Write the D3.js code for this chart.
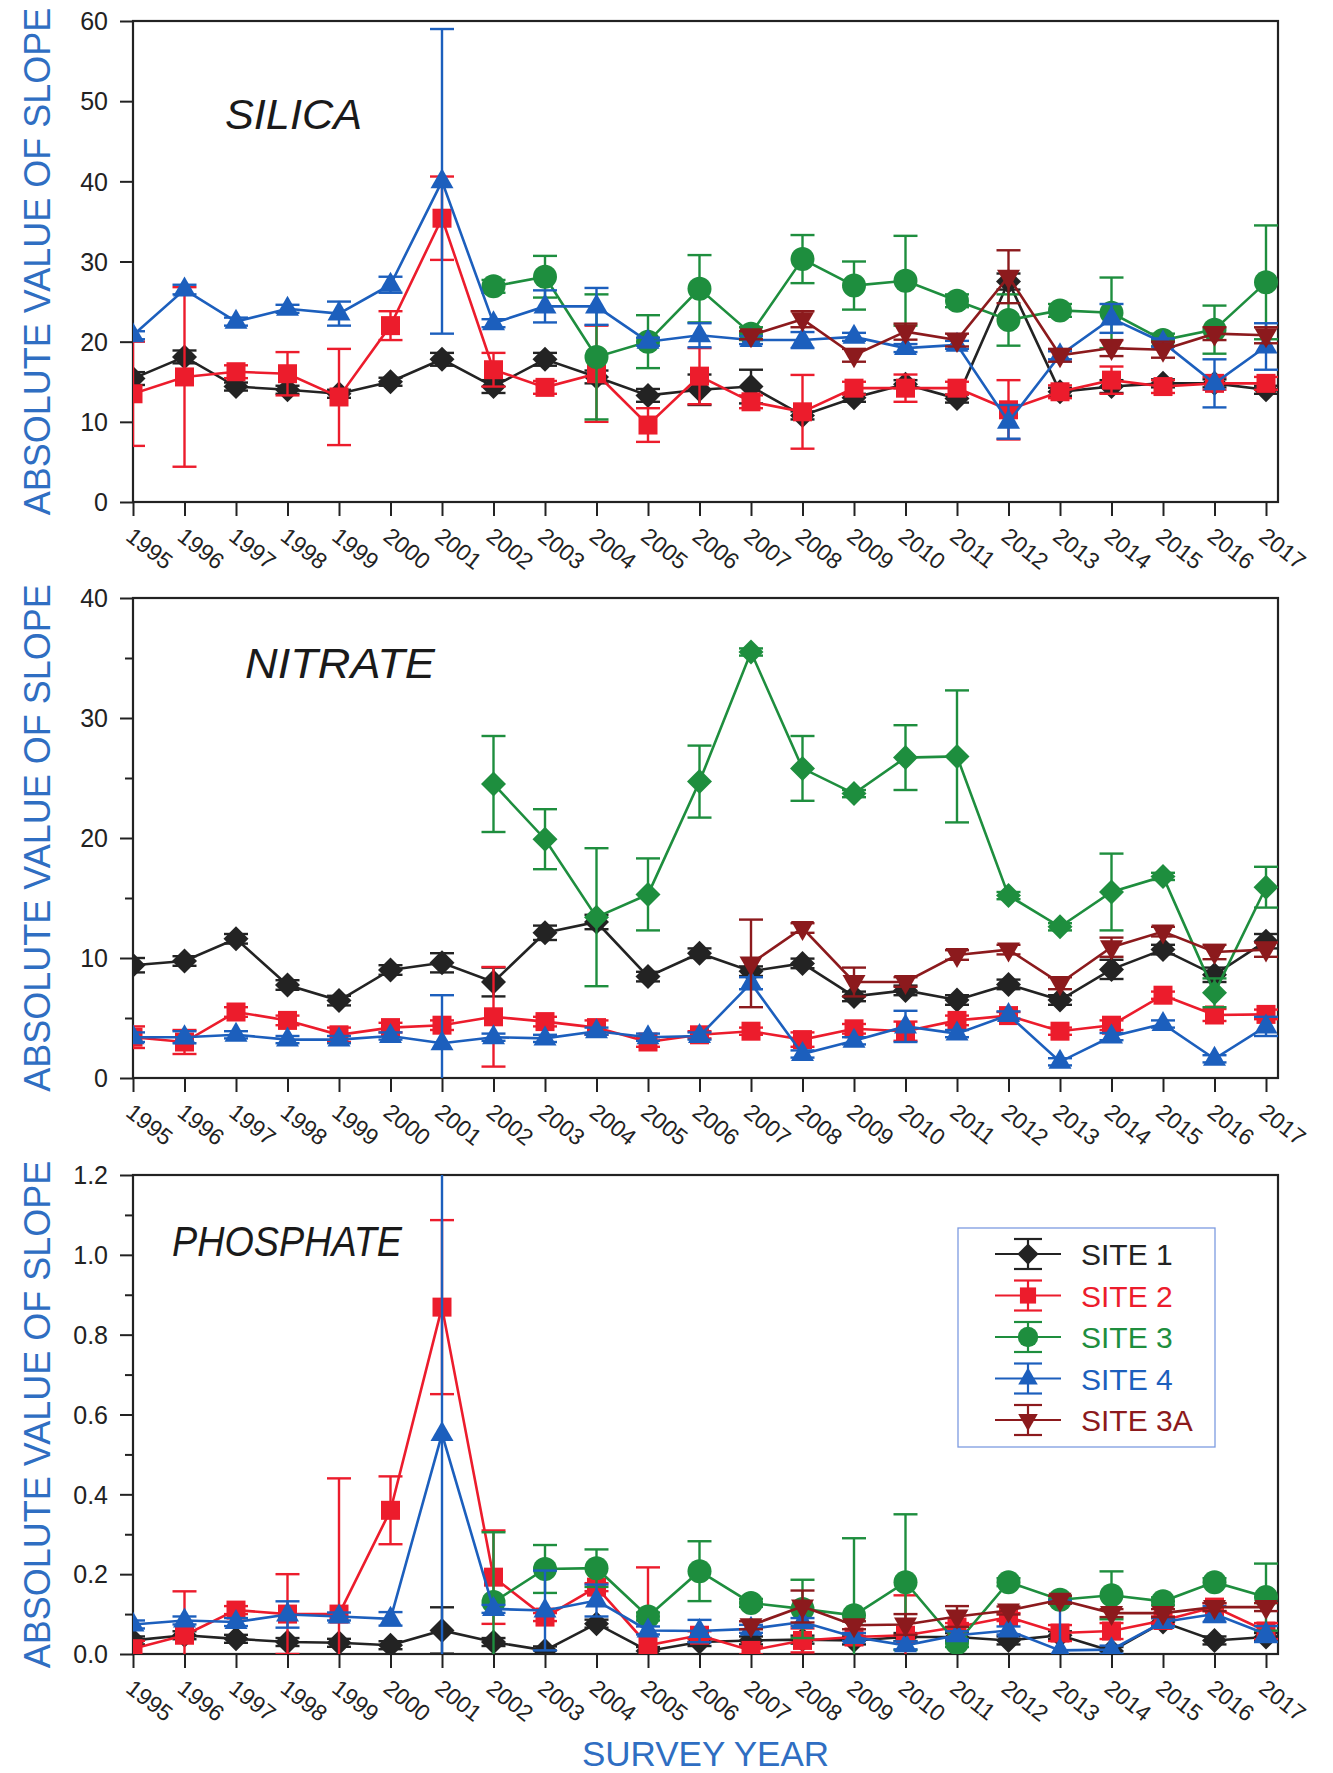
<!DOCTYPE html>
<html><head><meta charset="utf-8">
<script src="https://cdn.jsdelivr.net/npm/d3@7/dist/d3.min.js"></script>
<style>body{margin:0;background:#fff}</style>
</head><body>
<svg id="chart" width="1333" height="1773"></svg>
<script>
// ---------- DATA ----------
const years = [1995,1996,1997,1998,1999,2000,2001,2002,2003,2004,2005,2006,2007,2008,2009,2010,2011,2012,2013,2014,2015,2016,2017];
const yearLabels = ["1995","1996","1997","1998","1999","2000","2001","2002","2003","2004","2005","2006","2007","2008","2009","2010","2011","2012","2013","2014","2015","2016","2017"];
const siteNames = ["SITE 1","SITE 2","SITE 3","SITE 4","SITE 3A"];
const siteColors = ["#232323","#ec1c2c","#1e8e3e","#1c5fbd","#8c1a1d"];
const panelNames = ["SILICA","NITRATE","PHOSPHATE"];

// Silica
const silicaTicks = [0,10,20,30,40,50,60];
const silicaSite1 = [15.4,18.1,14.4,14.0,13.5,15.0,17.8,14.4,17.8,15.6,13.3,14.0,14.4,10.8,13.0,14.7,12.9,27.5,13.75,14.4,14.8,14.8,14.0];
const silicaSite1Err = [0.8,0.8,0.5,0.5,0.5,0.5,0.8,0.8,0.8,0.8,0.8,1.9,2.1,0.5,0.5,0.5,0.5,1.0,0.5,0.8,0.5,0.5,0.5];
const silicaSite2 = [13.5,15.6,16.25,16.0,13.1,22.0,35.4,16.5,14.3,16.0,9.6,15.7,12.5,11.25,14.2,14.2,14.2,11.5,13.75,15.2,14.4,14.8,14.8];
const silicaSite2Err = [6.5,11.2,0.8,2.7,6.0,1.8,5.2,2.1,0.8,6.0,2.1,3.5,0.8,4.6,0.8,1.7,0.8,3.7,0.8,1.7,0.8,0.8,0.8];
const silicaSite3 = [null,null,null,null,null,null,null,26.9,28.1,18.1,20.0,26.6,21.0,30.3,27.0,27.6,25.1,22.7,23.9,23.6,20.2,21.5,27.4];
const silicaSite3Err = [null,null,null,null,null,null,null,0.8,2.6,7.8,3.3,4.2,0.8,3.0,3.0,5.6,0.8,3.2,0.8,4.4,0.8,3.0,7.1];
const silicaSite4 = [20.8,26.5,22.5,24.1,23.5,27.1,40.0,22.3,24.4,24.4,20.0,20.8,20.2,20.2,20.6,19.2,19.6,10.0,18.3,22.9,19.9,14.8,19.4];
const silicaSite4Err = [0.5,0.6,0.5,0.5,1.5,1.0,19.0,0.5,2.0,2.3,0.5,1.5,0.5,1.0,0.5,0.5,0.5,2.1,0.5,1.8,0.5,3.0,2.9];
const silicaSite3A = [null,null,null,null,null,null,null,null,null,null,null,null,20.8,22.8,18.3,21.25,20.2,28.1,18.3,19.2,19.0,21.0,20.8];
const silicaSite3AErr = [null,null,null,null,null,null,null,null,null,null,null,null,0.5,1.0,0.8,1.0,0.8,3.3,0.8,1.0,1.0,0.8,1.0];

// Nitrate
const nitrateTicks = [0,10,20,30,40];
const nitrateMinorTicks = [5,15,25,35];
const nitrateSite1 = [9.4,9.75,11.6,7.75,6.45,9.0,9.6,8.0,12.1,13.0,8.45,10.4,8.9,9.55,6.8,7.3,6.5,7.8,6.5,9.05,10.7,8.6,11.4];
const nitrateSite1Err = [0.6,0.4,0.4,0.4,0.4,0.4,0.8,1.2,0.6,0.6,0.4,0.4,0.4,0.4,0.4,0.4,0.4,0.4,0.4,0.8,0.4,0.6,0.6];
const nitrateSite2 = [3.4,3.0,5.5,4.8,3.6,4.2,4.4,5.1,4.7,4.2,3.0,3.6,3.9,3.2,4.1,3.9,4.8,5.2,3.9,4.4,6.9,5.25,5.3];
const nitrateSite2Err = [0.9,1.0,0.4,0.4,0.6,0.4,0.4,4.15,0.4,0.6,0.4,0.3,0.3,0.6,0.4,0.8,0.4,0.3,0.3,0.4,0.3,0.5,0.4];
const nitrateSite3 = [null,null,null,null,null,null,null,24.5,19.9,13.4,15.3,24.7,35.5,25.8,23.7,26.7,26.8,15.2,12.6,15.5,16.8,7.1,15.9];
const nitrateSite3Err = [null,null,null,null,null,null,null,4.0,2.5,5.75,3.0,3.0,0.3,2.7,0.3,2.7,5.5,0.3,0.3,3.2,0.3,1.2,1.7];
const nitrateSite4 = [3.4,3.4,3.6,3.2,3.2,3.5,2.9,3.4,3.3,3.9,3.4,3.5,7.9,2.0,3.1,4.3,3.7,5.25,1.35,3.45,4.5,1.6,4.3];
const nitrateSite4Err = [0.4,0.5,0.3,0.3,0.3,0.3,4.0,0.3,0.3,0.3,0.3,0.3,0.5,0.3,0.3,1.3,0.3,0.3,0.3,0.3,0.3,0.3,0.8];
const nitrateSite3A = [null,null,null,null,null,null,null,null,null,null,null,null,9.55,12.5,8.0,8.0,10.25,10.7,7.9,10.9,12.2,10.5,10.7];
const nitrateSite3AErr = [null,null,null,null,null,null,null,null,null,null,null,null,3.65,0.4,1.2,0.4,0.4,0.4,0.5,0.8,0.4,0.6,0.6];

// Phosphate
const phosphateTicks = [0,0.2,0.4,0.6,0.8,1.0,1.2];
const phosphateMinorTicks = [0.1,0.3,0.5,0.7,0.9,1.1];
const phosphateSite1 = [0.034,0.047,0.038,0.03,0.028,0.022,0.059,0.03,0.009,0.076,0.0075,0.03,0.034,0.036,0.034,0.0425,0.0425,0.034,0.047,0.0075,0.08,0.034,0.0425];
const phosphateSite1Err = [0.01,0.01,0.01,0.01,0.01,0.01,0.058,0.01,0.01,0.01,0.01,0.01,0.01,0.01,0.01,0.01,0.01,0.01,0.01,0.01,0.01,0.01,0.01];
const phosphateSite2 = [0.013,0.047,0.11,0.10,0.10,0.36,0.869,0.1925,0.0925,0.1675,0.022,0.047,0.009,0.034,0.0425,0.047,0.0675,0.0925,0.0525,0.0575,0.084,0.1175,0.0575];
const phosphateSite2Err = [0.02,0.11,0.01,0.1,0.34,0.085,0.218,0.117,0.01,0.01,0.195,0.01,0.01,0.03,0.01,0.1,0.01,0.01,0.02,0.02,0.01,0.01,0.02];
const phosphateSite3 = [null,null,null,null,null,null,null,0.13,0.213,0.215,0.094,0.2075,0.128,0.113,0.097,0.18,0.0275,0.18,0.136,0.147,0.132,0.18,0.1425];
const phosphateSite3Err = [null,null,null,null,null,null,null,0.175,0.06,0.047,0.01,0.075,0.01,0.073,0.193,0.17,0.01,0.01,0.01,0.06,0.01,0.01,0.084];
const phosphateSite4 = [0.074,0.084,0.08,0.099,0.094,0.088,0.551,0.113,0.109,0.134,0.059,0.0575,0.063,0.08,0.0425,0.0217,0.047,0.059,0.009,0.011,0.08,0.1,0.05];
const phosphateSite4Err = [0.01,0.01,0.01,0.033,0.01,0.017,0.7,0.01,0.1,0.04,0.01,0.028,0.01,0.01,0.01,0.01,0.01,0.01,0.125,0.01,0.01,0.02,0.02];
const phosphateSite3A = [null,null,null,null,null,null,null,null,null,null,null,null,0.072,0.119,0.072,0.074,0.094,0.109,0.136,0.1025,0.1025,0.1175,0.1175];
const phosphateSite3AErr = [null,null,null,null,null,null,null,null,null,null,null,null,0.01,0.04,0.01,0.026,0.026,0.01,0.01,0.01,0.01,0.01,0.01];

// ---------- LAYOUT ----------
const FONT = "'Liberation Sans', Arial, Helvetica, sans-serif";
const left = 133, right = 1278;
const titleBlue = "#2f6ec2";
const x = d3.scaleLinear().domain([years[0], years[years.length-1]]).range([133, 1266]);

const panels = [
  {top:21, bottom:502, max:60, ticks:silicaTicks, minor:[], fmt:d3.format("d"),
   series:[[silicaSite1,silicaSite1Err],[silicaSite2,silicaSite2Err],[silicaSite3,silicaSite3Err],[silicaSite4,silicaSite4Err],[silicaSite3A,silicaSite3AErr]],
   markers:["diamond","square","circle","tri","triDown"], label:panelNames[0], lx:225, ly:129, lw:137},
  {top:598, bottom:1078, max:40, ticks:nitrateTicks, minor:nitrateMinorTicks, fmt:d3.format("d"),
   series:[[nitrateSite1,nitrateSite1Err],[nitrateSite2,nitrateSite2Err],[nitrateSite3,nitrateSite3Err],[nitrateSite4,nitrateSite4Err],[nitrateSite3A,nitrateSite3AErr]],
   markers:["diamond","square","diamond","tri","triDown"], label:panelNames[1], lx:245, ly:678, lw:190},
  {top:1175, bottom:1654, max:1.2, ticks:phosphateTicks, minor:phosphateMinorTicks, fmt:d3.format(".1f"),
   series:[[phosphateSite1,phosphateSite1Err],[phosphateSite2,phosphateSite2Err],[phosphateSite3,phosphateSite3Err],[phosphateSite4,phosphateSite4Err],[phosphateSite3A,phosphateSite3AErr]],
   markers:["diamond","square","circle","tri","triDown"], label:panelNames[2], lx:172, ly:1256, lw:230}
];

function markerPath(t){
  switch(t){
    case "diamond": return "M0,-12.5L12.5,0L0,12.5L-12.5,0Z";
    case "square": return "M-9.5,-9.5H9.5V9.5H-9.5Z";
    case "circle": return d3.symbol(d3.symbolCircle, Math.PI*12*12)();
    case "tri": return "M0,-13L11.5,7L-11.5,7Z";
    case "triDown": return "M0,13L11.5,-7L-11.5,-7Z";
  }
}

const svg = d3.select("#chart");
svg.append("rect").attr("width",1333).attr("height",1773).attr("fill","#fff");

panels.forEach((p, pi) => {
  const y = d3.scaleLinear().domain([0, p.max]).range([p.bottom, p.top]);
  const g = svg.append("g");
  const clipId = "clip" + pi;
  svg.append("clipPath").attr("id", clipId).append("rect")
    .attr("x", left).attr("y", p.top).attr("width", right-left).attr("height", p.bottom-p.top);

  // y axis
  const ya = g.append("g").attr("transform", `translate(${left},0)`)
    .call(d3.axisLeft(y).tickValues(p.ticks).tickFormat(p.fmt).tickSize(13).tickPadding(12));
  ya.select(".domain").remove();
  ya.selectAll("line").attr("stroke","#222").attr("stroke-width",2);
  ya.selectAll("text").attr("font-family",FONT).attr("font-size",25).attr("fill","#222").attr("dy","0.35em");
  if (p.minor.length){
    const ym = g.append("g").attr("transform", `translate(${left},0)`)
      .call(d3.axisLeft(y).tickValues(p.minor).tickFormat("").tickSize(8));
    ym.select(".domain").remove();
    ym.selectAll("line").attr("stroke","#222").attr("stroke-width",2);
  }
  // x axis
  const xa = g.append("g").attr("transform", `translate(0,${p.bottom})`)
    .call(d3.axisBottom(x).tickValues(years).tickFormat((d,i)=>yearLabels[i]).tickSize(14));
  xa.select(".domain").remove();
  xa.selectAll("line").attr("stroke","#222").attr("stroke-width",2);
  xa.selectAll("text").attr("font-family",FONT).attr("font-size",23).attr("fill","#222")
    .attr("x",0).attr("y",0).attr("dy",0).attr("text-anchor","start")
    .attr("transform","translate(-9,37) rotate(38)");

  // frame
  g.append("rect").attr("x",left).attr("y",p.top).attr("width",right-left).attr("height",p.bottom-p.top)
    .attr("fill","none").attr("stroke","#222").attr("stroke-width",2.2);

  // y title
  g.append("text").attr("transform",`translate(50,${(p.top+p.bottom)/2}) rotate(-90)`)
    .attr("text-anchor","middle").attr("font-family",FONT).attr("font-size",36).attr("fill",titleBlue)
    .text("ABSOLUTE VALUE OF SLOPE");

  // panel label
  g.append("text").attr("x",p.lx).attr("y",p.ly).attr("font-family",FONT).attr("font-size",43)
    .attr("font-style","italic").attr("fill","#1a1a1a").attr("textLength",p.lw).attr("lengthAdjust","spacingAndGlyphs")
    .text(p.label);

  // series
  const dg = g.append("g").attr("clip-path",`url(#${clipId})`);
  p.series.forEach(([vals, errs], si) => {
    const col = siteColors[si];
    const pts = years.map((yr,i)=>({yr, v:vals[i], e:errs[i]})).filter(d=>d.v!==null);
    const sg = dg.append("g");
    sg.append("path").datum(pts).attr("fill","none").attr("stroke",col).attr("stroke-width",2.6)
      .attr("d", d3.line().x(d=>x(d.yr)).y(d=>y(d.v)));
    const eb = sg.selectAll(".eb").data(pts.filter(d=>d.e)).join("g").attr("stroke",col).attr("stroke-width",2.4);
    eb.append("line").attr("x1",d=>x(d.yr)).attr("x2",d=>x(d.yr)).attr("y1",d=>y(d.v+d.e)).attr("y2",d=>y(d.v-d.e));
    eb.append("line").attr("x1",d=>x(d.yr)-12).attr("x2",d=>x(d.yr)+12).attr("y1",d=>y(d.v+d.e)).attr("y2",d=>y(d.v+d.e));
    eb.append("line").attr("x1",d=>x(d.yr)-12).attr("x2",d=>x(d.yr)+12).attr("y1",d=>y(d.v-d.e)).attr("y2",d=>y(d.v-d.e));
    sg.selectAll(".mk").data(pts).join("path").attr("d",markerPath(p.markers[si]))
      .attr("transform",d=>`translate(${x(d.yr)},${y(d.v)})`).attr("fill",col);
  });
});

// x axis title
svg.append("text").attr("x",(left+right)/2).attr("y",1766).attr("text-anchor","middle")
  .attr("font-family",FONT).attr("font-size",35).attr("fill",titleBlue).text("SURVEY YEAR");

// legend
const lg = svg.append("g");
lg.append("rect").attr("x",958).attr("y",1228).attr("width",257).attr("height",219)
  .attr("fill","#fff").attr("stroke","#7d9be0").attr("stroke-width",1.3);
const legendMarkers = ["diamond","square","circle","tri","triDown"];
siteNames.forEach((name, i) => {
  const cy = 1254 + i*41.5;
  const col = siteColors[i];
  const e = lg.append("g").attr("stroke",col).attr("stroke-width",2.2);
  e.append("line").attr("x1",995).attr("x2",1061).attr("y1",cy).attr("y2",cy);
  e.append("line").attr("x1",1028).attr("x2",1028).attr("y1",cy-15).attr("y2",cy+15);
  e.append("line").attr("x1",1014).attr("x2",1042).attr("y1",cy-15).attr("y2",cy-15);
  e.append("line").attr("x1",1014).attr("x2",1042).attr("y1",cy+15).attr("y2",cy+15);
  lg.append("path").attr("d",markerPath(legendMarkers[i])).attr("transform",`translate(1028,${cy}) scale(0.85)`).attr("fill",col);
  lg.append("text").attr("x",1081).attr("y",cy+11).attr("font-family",FONT).attr("font-size",30)
    .attr("fill",col).text(name);
});
</script>
</body></html>
